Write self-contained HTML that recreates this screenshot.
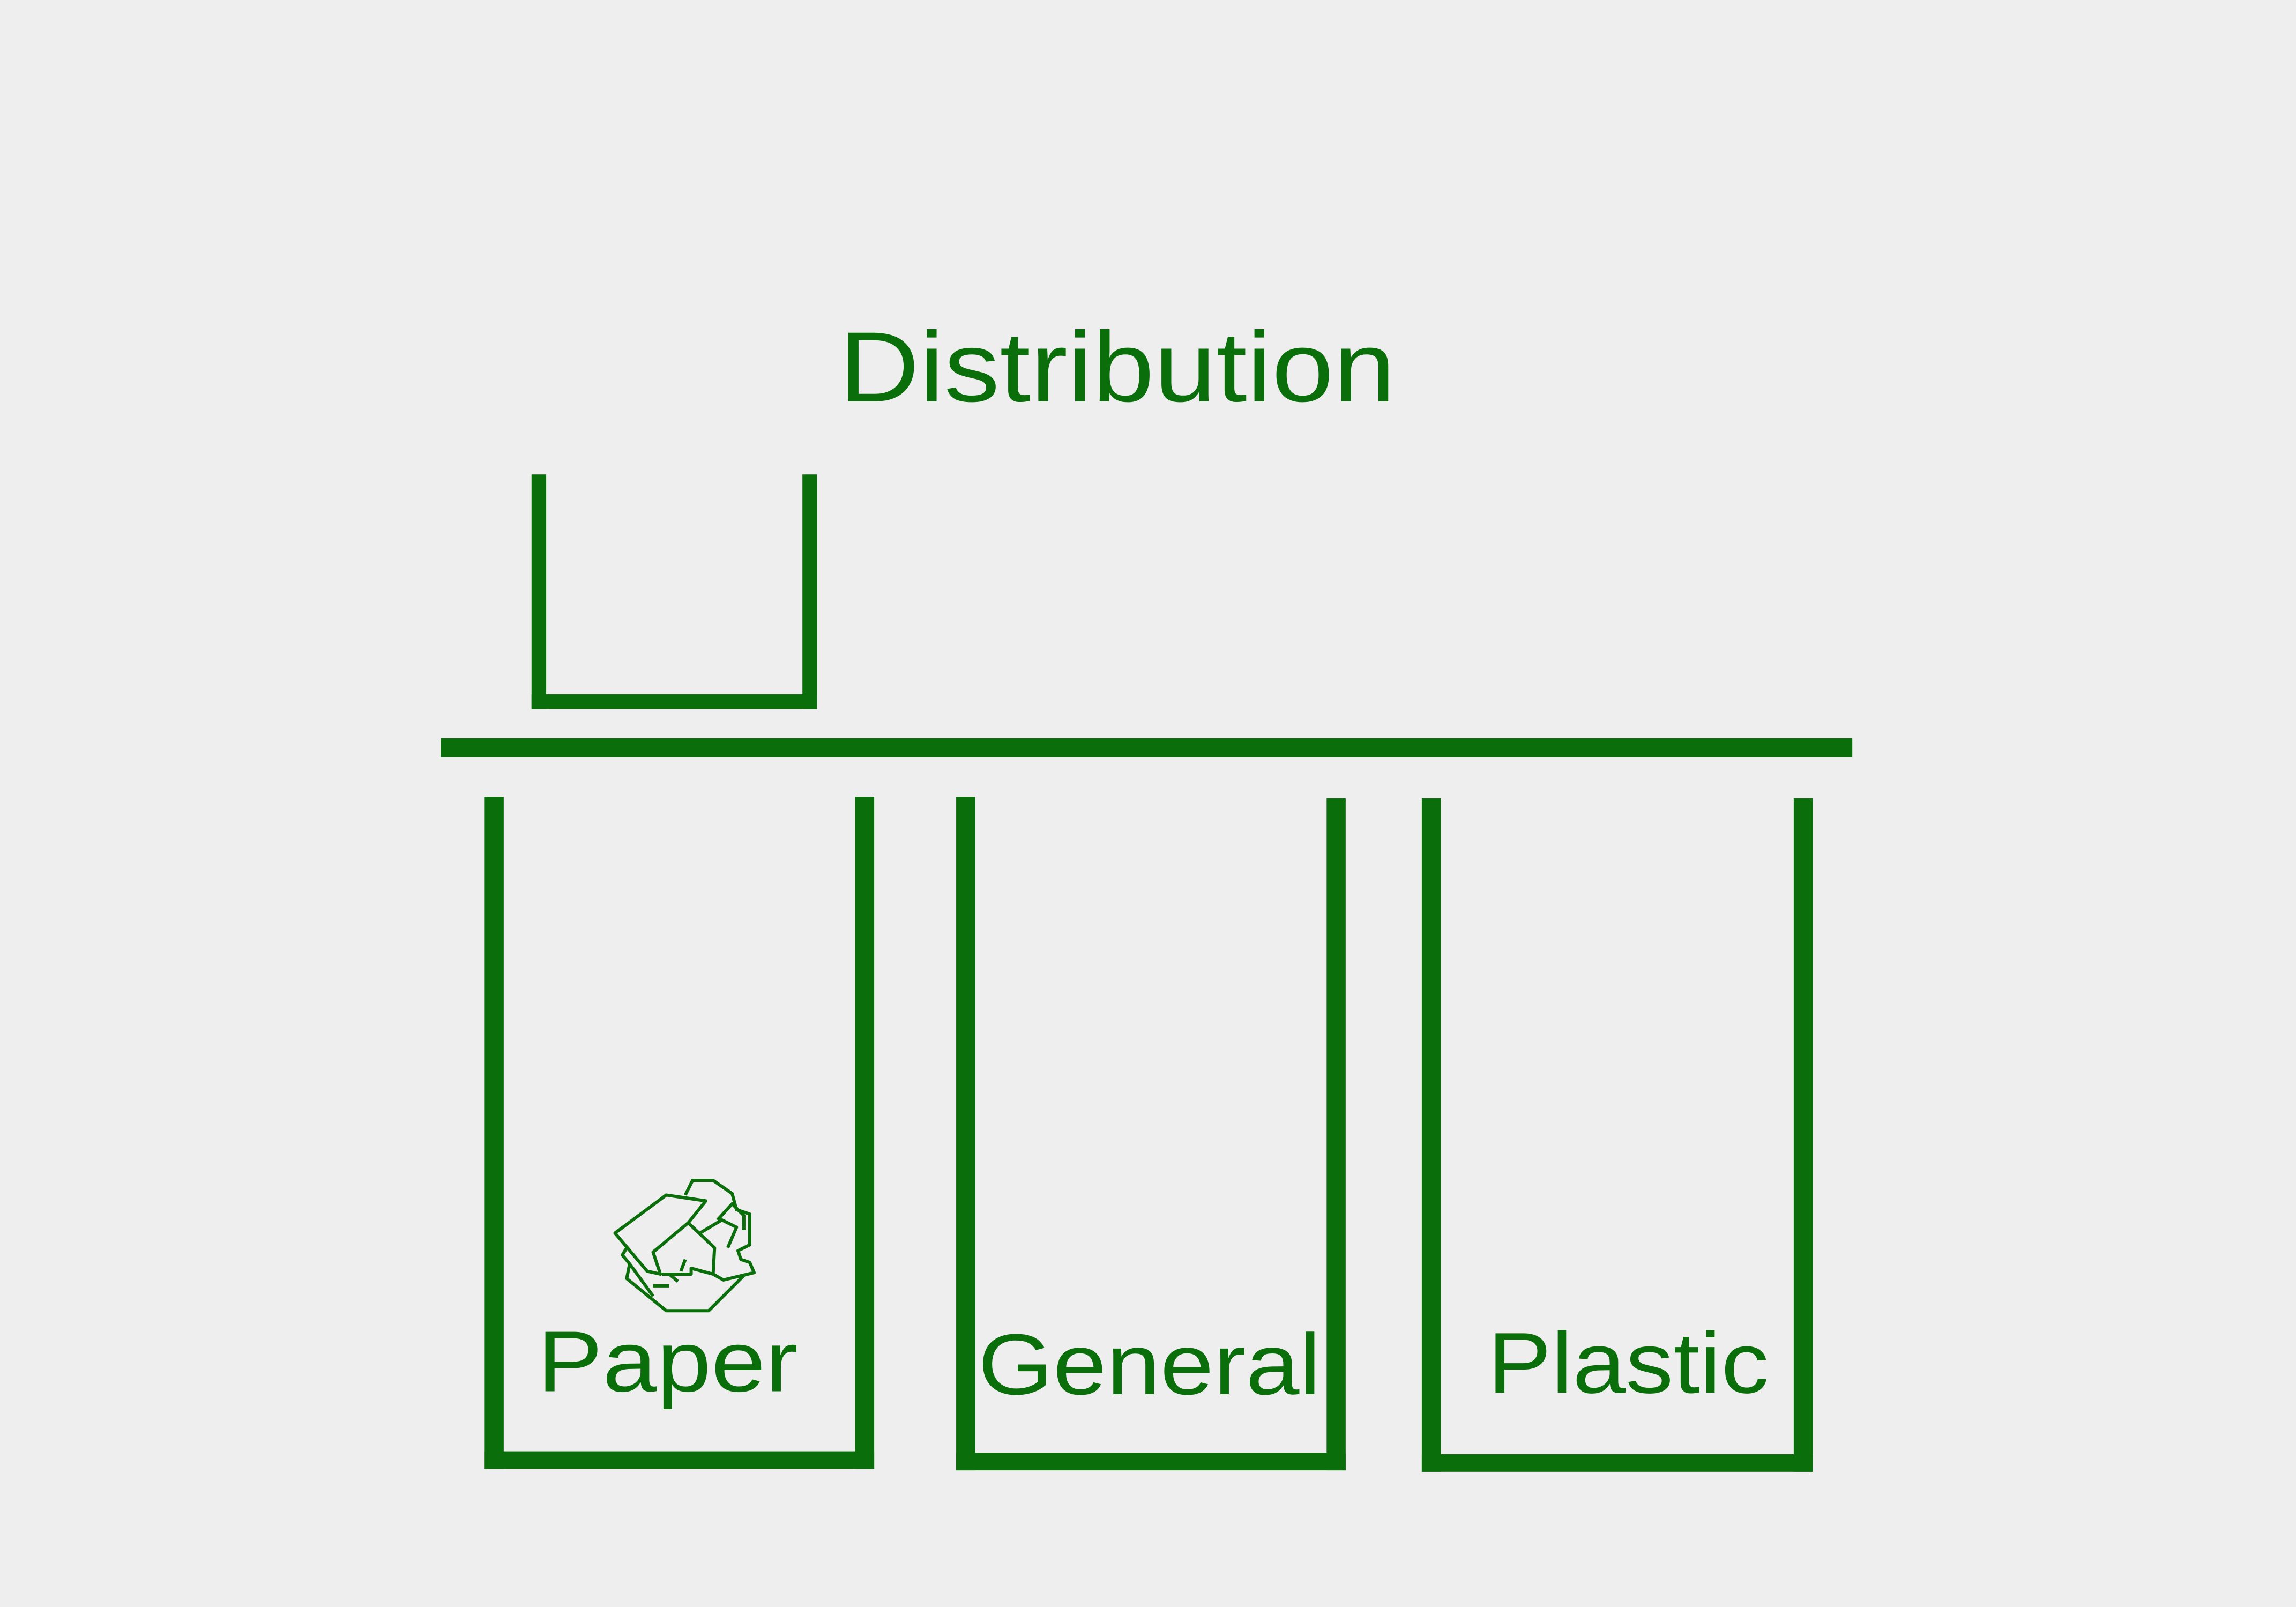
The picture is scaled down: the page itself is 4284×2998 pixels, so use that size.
<!DOCTYPE html>
<html><head><meta charset="utf-8"><style>
html,body{margin:0;padding:0;background:#eeeeee;}
svg{display:block;}
text{font-family:"Liberation Sans",sans-serif;fill:#0a6e0a;}
</style></head><body>
<svg width="4284" height="2998" viewBox="0 0 1568 1097.3">
<rect width="1568" height="1097.3" fill="#eeeeee"/>
<text x="573" y="274" font-size="68" textLength="380" lengthAdjust="spacingAndGlyphs">Distribution</text>
<g fill="#0a6e0a">
 <g>
  <rect x="363" y="324" width="10" height="160"/>
  <rect x="548" y="324" width="10" height="160"/>
  <rect x="363" y="474" width="195" height="10"/>
 </g>
 <rect x="301" y="504" width="964" height="13"/>
 <g>
  <rect x="331" y="544" width="13" height="459"/>
  <rect x="584" y="544" width="13" height="459"/>
  <rect x="331" y="991" width="266" height="12"/>
 </g>
 <g>
  <rect x="653" y="544" width="13" height="460"/>
  <rect x="906" y="545" width="13" height="459"/>
  <rect x="653" y="992" width="266" height="12"/>
 </g>
 <g>
  <rect x="971" y="545" width="13" height="460"/>
  <rect x="1225" y="545" width="13" height="460"/>
  <rect x="971" y="993" width="267" height="12"/>
 </g>
</g>
<g fill="none" stroke="#0a6e0a" stroke-width="2.2" stroke-linejoin="round">
 <path d="M420 842 L455 816 L482 820 L470 835 L446 855 L451 870 L442 868 Z"/>
 <path d="M470 835 L488 852 L487 870 L472 866 L472 870 L452 870"/>
 <path d="M468 816 L473 806 L487 806 L500 815 L503 826 L512 829 L512 850 L504 854 L506 860 L512 862 L515 869 L494 874 L487 870"/>
 <path d="M478 842 L493 833 L503 838 L497 852"/>
 <path d="M490 833 L500 822 L508 830 L508 840"/>
 <path d="M428 852 L425 857 L430 863 L428 873 L455 895 L484 895 L508 871"/>
 <path d="M430 863 L446 885"/>
 <path d="M446 878 L457 878"/>
 <path d="M457 870 L463 875 M465 868 L468 860"/>
</g>
<text x="367" y="950" font-size="59" textLength="178" lengthAdjust="spacingAndGlyphs">Paper</text>
<text x="668" y="952" font-size="59" textLength="234" lengthAdjust="spacingAndGlyphs">General</text>
<text x="1016" y="951" font-size="59" textLength="192" lengthAdjust="spacingAndGlyphs">Plastic</text>
</svg>
</body></html>
